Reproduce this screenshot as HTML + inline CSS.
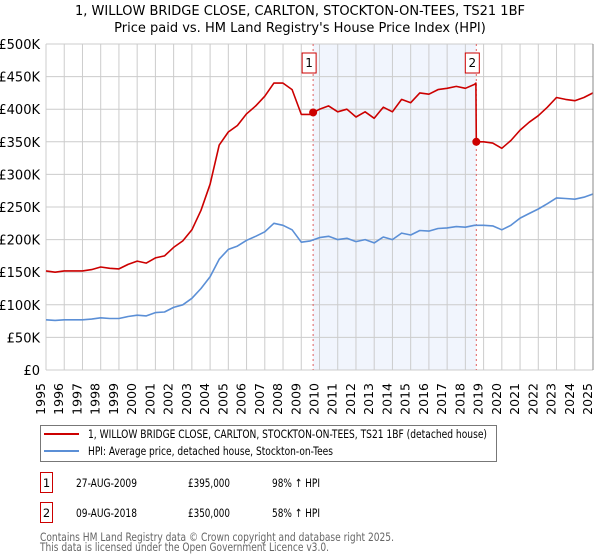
<!DOCTYPE html>
<html><head><meta charset="utf-8">
<style>
body{margin:0;background:#fff;font-family:"DejaVu Sans","Liberation Sans",sans-serif;}
#wrap{position:relative;width:600px;height:560px;overflow:hidden;}
</style></head>
<body>
<div id="wrap">
<svg id="chart" width="600" height="560" style="position:absolute;left:0;top:0;font-family:'DejaVu Sans','Liberation Sans',sans-serif;"></svg>
</div>
<script>
const hpiYears=[1995,1995.5,1996,1996.5,1997,1997.5,1998,1998.5,1999,1999.5,2000,2000.5,2001,2001.5,2002,2002.5,2003,2003.5,2004,2004.5,2005,2005.5,2006,2006.5,2007,2007.5,2008,2008.5,2009,2009.5,2010,2010.5,2011,2011.5,2012,2012.5,2013,2013.5,2014,2014.5,2015,2015.5,2016,2016.5,2017,2017.5,2018,2018.5,2019,2019.5,2020,2020.5,2021,2021.5,2022,2022.5,2023,2023.5,2024,2024.5,2025];
const hpiValues=[77,76,77,77,77,78,80,79,79,82,84,83,88,89,96,100,110,125,143,170,185,190,199,205,212,225,222,215,196,198,203,205,200,202,197,200,195,204,200,210,207,214,213,217,218,220,219,222,222,221,215,222,233,240,247,255,264,263,262,265,270];
const priceYears=[1995,1995.5,1996,1996.5,1997,1997.5,1998,1998.5,1999,1999.5,2000,2000.5,2001,2001.5,2002,2002.5,2003,2003.5,2004,2004.5,2005,2005.5,2006,2006.5,2007,2007.5,2008,2008.5,2009,2009.5,2010,2010.5,2011,2011.5,2012,2012.5,2013,2013.5,2014,2014.5,2015,2015.5,2016,2016.5,2017,2017.5,2018,2018.5,2018.58,2018.6,2019,2019.5,2020,2020.5,2021,2021.5,2022,2022.5,2023,2023.5,2024,2024.5,2025];
const priceValues=[152,150,152,152,152,154,158,156,155,162,167,164,172,175,188,198,215,245,285,345,365,375,393,405,420,440,440,430,392,392,400,405,396,400,388,396,386,403,396,415,410,425,423,430,432,435,432,438,440,350,350,348,340,352,368,380,390,403,418,415,413,418,425];
const saleYears=[2009.65,2018.6];
const salePrices=[395,350];
const saleLabels=["1","2"];
const yTicks=[0,50,100,150,200,250,300,350,400,450,500];
const yTickLabels=["£0","£50K","£100K","£150K","£200K","£250K","£300K","£350K","£400K","£450K","£500K"];
const xTicks=[1995,1996,1997,1998,1999,2000,2001,2002,2003,2004,2005,2006,2007,2008,2009,2010,2011,2012,2013,2014,2015,2016,2017,2018,2019,2020,2021,2022,2023,2024,2025];

const svg=document.getElementById('chart');
const NS='http://www.w3.org/2000/svg';
const X0=46,X1=593,Y0=370,Y1=44;
function xs(v){return X0+(v-1995)/30*(X1-X0);}
function ys(v){return Y0-v/500*(Y0-Y1);}
function mk(tag,attrs,parent){const e=document.createElementNS(NS,tag);for(const k in attrs)e.setAttribute(k,attrs[k]);(parent||svg).appendChild(e);return e;}
function txt(s,attrs){const e=mk('text',attrs);e.textContent=s;return e;}
function fit(e,len){e.setAttribute('textLength',len);e.setAttribute('lengthAdjust','spacingAndGlyphs');}

let t=txt("1, WILLOW BRIDGE CLOSE, CARLTON, STOCKTON-ON-TEES, TS21 1BF",{x:300,y:15,'text-anchor':'middle','font-size':13,fill:'#000'});

t=txt("Price paid vs. HM Land Registry's House Price Index (HPI)",{x:300,y:32,'text-anchor':'middle','font-size':13,fill:'#000'});


let sh=mk('rect',{x:xs(saleYears[0]),y:Y1,width:xs(saleYears[1])-xs(saleYears[0]),height:Y0-Y1,fill:'#eef3fd',opacity:0.8});


yTicks.forEach((v,i)=>{
 let g=mk('line',{x1:X0,x2:X1,y1:ys(v),y2:ys(v),stroke:'#cccccc','stroke-width':1});
 
 let l=txt(yTickLabels[i],{x:40,y:ys(v)+5,'text-anchor':'end','font-size':13,fill:'#000'});
 
});
xTicks.forEach(v=>{
 let g=mk('line',{x1:xs(v),x2:xs(v),y1:Y1,y2:Y0,stroke:'#cccccc','stroke-width':1});
 
 let l=txt(String(v),{transform:`translate(${xs(v)-1},383) rotate(-90)`,'text-anchor':'end','font-size':12.5,fill:'#000'});
 
});

saleYears.forEach((v,i)=>{
 let d=mk('line',{x1:xs(v),x2:xs(v),y1:Y1,y2:Y0,stroke:'#e06060','stroke-width':1,'stroke-dasharray':'2,3'});
 
});

function path(xa,va,color,name){
 let d=xa.map((x,i)=>(i?'L':'M')+xs(x).toFixed(1)+' '+ys(va[i]).toFixed(1)).join(' ');
 let p=mk('path',{d:d,fill:'none',stroke:color,'stroke-width':1.6,'stroke-linejoin':'round'});
 
}
path(hpiYears,hpiValues,'#5b8fd6','hpi-line');
path(priceYears,priceValues,'#cc0000','price-line');

saleYears.forEach((v,i)=>{
 let c=mk('circle',{cx:xs(v),cy:ys(salePrices[i]),r:4,fill:'#cc0000'});
 
 let b=mk('rect',{x:xs(v)-11,y:53,width:14,height:20,fill:'#fff',stroke:'#cc0000','stroke-width':1});
 
 let l=txt(saleLabels[i],{x:xs(v)-4,y:67,'text-anchor':'middle','font-size':12,fill:'#000'});
 
});
let ax=mk('line',{x1:X1,x2:X1,y1:Y1,y2:Y0,stroke:'#888','stroke-width':1});


// legend
let lg=mk('rect',{x:40.5,y:425.5,width:456,height:36,fill:'#fff',stroke:'#777','stroke-width':1});

let l1=mk('line',{x1:44,x2:79,y1:434,y2:434,stroke:'#cc0000','stroke-width':2});

t=txt("1, WILLOW BRIDGE CLOSE, CARLTON, STOCKTON-ON-TEES, TS21 1BF (detached house)",{x:88,y:438,'font-size':11.5,fill:'#000'});
fit(t,399);

let l2=mk('line',{x1:44,x2:79,y1:451,y2:451,stroke:'#5b8fd6','stroke-width':2});

t=txt("HPI: Average price, detached house, Stockton-on-Tees",{x:88,y:455,'font-size':11.5,fill:'#000'});
fit(t,245);


// table
const rows=[["1","27-AUG-2009","£395,000","98% ↑ HPI"],["2","09-AUG-2018","£350,000","58% ↑ HPI"]];
rows.forEach((r,i)=>{
 const y=483+i*30;
 let b=mk('rect',{x:40.5,y:y-10.5,width:12,height:20,fill:'#fff',stroke:'#cc0000','stroke-width':1});
 
 let a=txt(r[0],{x:46.5,y:y+4,'text-anchor':'middle','font-size':11.5,fill:'#000'});
 
 a=txt(r[1],{x:76,y:y+4,'font-size':11.5,fill:'#000'});
 fit(a,61);
 
 a=txt(r[2],{x:188,y:y+4,'font-size':11.5,fill:'#000'});
 fit(a,42);
 
 a=txt(r[3],{x:272,y:y+4,'font-size':11.5,fill:'#000'});
 fit(a,48);
 
});
t=txt("Contains HM Land Registry data © Crown copyright and database right 2025.",{x:40,y:541,'font-size':11.5,fill:'#666'});
fit(t,354);

t=txt("This data is licensed under the Open Government Licence v3.0.",{x:40,y:551,'font-size':11.5,fill:'#666'});
fit(t,289);

</script>
</body></html>
